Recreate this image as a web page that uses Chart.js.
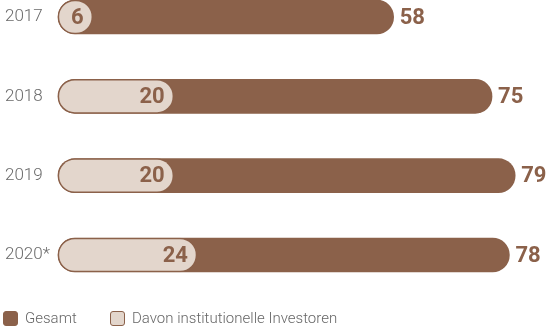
<!DOCTYPE html>
<html>
<head>
<meta charset="utf-8">
<script src="https://cdn.jsdelivr.net/npm/chart.js@4.4.0/dist/chart.umd.min.js"></script>
<style>
	html, body { margin: 0; padding: 0; background: #fff; }
	.chart-wrap { position: relative; width: 547px; height: 329px; }
	#bar-chart { position: absolute; left: 0; top: 0; }
	.legend { position: absolute; left: 3px; top: 310px; font-family: Roboto, sans-serif; font-weight: 300; font-size: 15px; color: #666; white-space: nowrap; }
	.legend .item { position: absolute; top: 0; line-height: 17px; }
	.legend .box { position: absolute; left: 0; top: 1px; width: 15px; height: 15px; border-radius: 3px; box-sizing: border-box; }
	.legend .text { position: absolute; left: 22px; top: 0; }
</style>
</head>
<body>
<div class="chart-wrap">
	<canvas id="bar-chart" width="547" height="329"></canvas>
	<div class="legend" id="legend"></div>
</div>
<script>
var years = ['2017', '2018', '2019', '2020*'];
var gesamt = [58, 75, 79, 78];
var davon = [6, 20, 20, 24];
var seriesNames = ['Gesamt', 'Davon institutionelle Investoren'];

var brown = 'rgb(139, 97, 74)';
var beige = 'rgb(227, 214, 204)';

// writes the numbers next to / inside the bars
var valueLabels = {
	id: 'valueLabels',
	afterDatasetsDraw: function(chart) {
		var ctx = chart.ctx;
		ctx.save();
		ctx.font = 'bold 22px Roboto, sans-serif';
		ctx.fillStyle = brown;
		ctx.textBaseline = 'middle';
		chart.data.datasets.forEach(function(ds, i) {
			var meta = chart.getDatasetMeta(i);
			meta.data.forEach(function(bar, j) {
				if (i === 0) {
					ctx.textAlign = 'left';
					ctx.fillText(ds.data[j], bar.x + 6, bar.y + 1);
				} else {
					ctx.textAlign = 'right';
					ctx.fillText(ds.data[j], bar.x - 9, bar.y + 1);
				}
			});
		});
		ctx.restore();
	}
};

var ctxBar = document.getElementById('bar-chart');
var myBarChart = new Chart(ctxBar, {
	type: 'bar',
	data: {
		labels: years,
		datasets: [
			{
				label: seriesNames[0],
				data: gesamt,
				backgroundColor: brown,
				order: 2
			},
			{
				label: seriesNames[1],
				data: davon,
				backgroundColor: beige,
				borderColor: brown,
				borderWidth: 1.5,
				order: 1
			}
		]
	},
	options: {
		indexAxis: 'y',
		responsive: false,
		animation: false,
		events: [],
		layout: {
			padding: { left: 5, top: 17, right: 0, bottom: 74 }
		},
		datasets: {
			bar: {
				grouped: false,
				barThickness: 34,
				borderRadius: 17,
				borderSkipped: false,
				clip: false
			}
		},
		plugins: {
			legend: { display: false },
			tooltip: { enabled: false }
		},
		scales: {
			x: {
				display: false,
				min: 0,
				max: 84.5
			},
			y: {
				offset: false,
				grid: { display: false },
				border: { display: false },
				afterFit: function(scale) {
					scale.width = 53;
				},
				ticks: {
					crossAlign: 'far',
					color: '#6a6a6a',
					font: { family: 'Roboto, sans-serif', size: 17, weight: 300 }
				}
			}
		}
	},
	plugins: [valueLabels]
});

// legend built from the datasets
var legend = document.getElementById('legend');
var legendX = [0, 107];
myBarChart.data.datasets.forEach(function(ds, i) {
	var item = document.createElement('div');
	item.className = 'item';
	item.style.left = legendX[i] + 'px';
	var box = document.createElement('span');
	box.className = 'box';
	box.style.background = ds.backgroundColor;
	box.style.border = '1.5px solid ' + brown;
	var text = document.createElement('span');
	text.className = 'text';
	text.textContent = ds.label;
	item.appendChild(box);
	item.appendChild(text);
	legend.appendChild(item);
});
</script>
</body>
</html>
